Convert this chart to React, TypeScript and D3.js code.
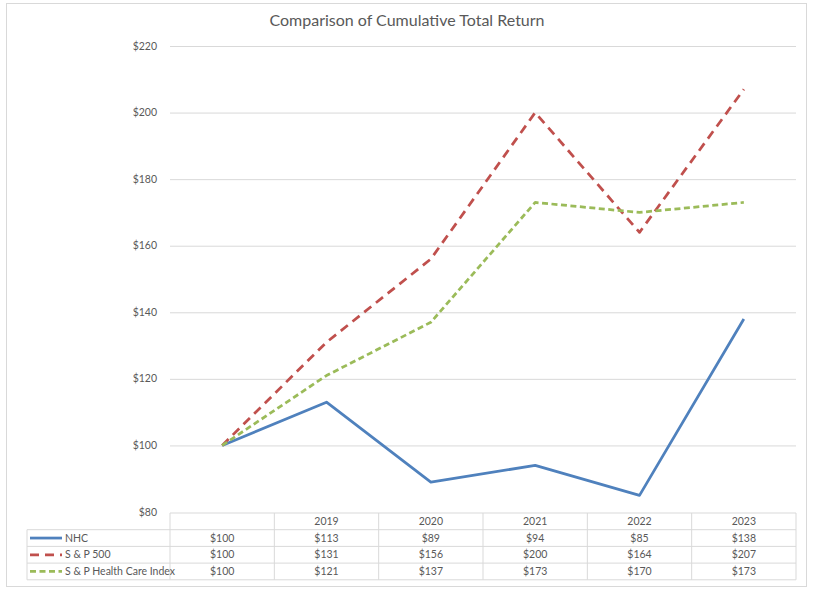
import React, { useEffect, useRef } from "react";
import * as d3 from "d3";

const categories = ["", "2019", "2020", "2021", "2022", "2023"];
const nhc = [100, 113, 89, 94, 85, 138];
const sp500 = [100, 131, 156, 200, 164, 207];
const healthCare = [100, 121, 137, 173, 170, 173];
const yTicks = [80, 100, 120, 140, 160, 180, 200, 220];

const series = [
  { name: "NHC", values: nhc, color: "#4f81bd", dash: null as string | null },
  { name: "S & P 500", values: sp500, color: "#c0504d", dash: "9,6" },
  { name: "S & P Health Care Index", values: healthCare, color: "#9bbb59", dash: "6,3.5" },
];

const W = 817;
const H = 592;
const FONT = "Lato, 'Liberation Sans', sans-serif";
const TEXT = "#595959";
const GRID = "#d9d9d9";

const App = () => {
  const svgRef = useRef<SVGSVGElement | null>(null);

  useEffect(() => {
    const svg = d3.select(svgRef.current);
    svg.selectAll("*").remove();

    const plot = { left: 170, right: 796, top: 46, bottom: 512 };
    const rowH = 16.7;
    const legendLeft = 27;
    const fs = 10.5;

    // chart border
    svg.append("rect")
      .attr("x", 6.5).attr("y", 3.5)
      .attr("width", 800).attr("height", 583)
      .attr("fill", "#fff").attr("stroke", GRID);

    svg.append("text")
      .attr("x", 407).attr("y", 26)
      .attr("text-anchor", "middle")
      .attr("font-family", FONT).attr("font-size", 16)
      .attr("fill", TEXT)
      .text("Comparison of Cumulative Total Return");

    const x = d3.scaleBand<number>()
      .domain(d3.range(categories.length))
      .range([plot.left, plot.right])
      .paddingInner(0).paddingOuter(0);
    const cx = (i: number) => x(i)! + x.bandwidth() / 2;

    const y = d3.scaleLinear().domain([80, 220]).range([plot.bottom, plot.top]);

    // gridlines
    svg.append("g")
      .selectAll("line")
      .data(yTicks.filter((t) => t !== 80))
      .enter()
      .append("line")
      .attr("x1", plot.left).attr("x2", plot.right)
      .attr("y1", (d) => y(d) + 0.5).attr("y2", (d) => y(d) + 0.5)
      .attr("stroke", GRID).attr("stroke-width", 1);

    // y labels
    svg.append("g")
      .selectAll("text")
      .data(yTicks)
      .enter()
      .append("text")
      .attr("x", 157).attr("y", (d) => y(d) + 3.5)
      .attr("text-anchor", "end")
      .attr("font-family", FONT).attr("font-size", fs)
      .attr("fill", TEXT)
      .text((d) => `$${d}`);

    // lines
    const line = d3.line<number>()
      .x((_, i) => cx(i))
      .y((d) => y(d));

    series.forEach((s) => {
      svg.append("path")
        .datum(s.values)
        .attr("d", line)
        .attr("fill", "none")
        .attr("stroke", s.color)
        .attr("stroke-width", 2.75)
        .attr("stroke-linejoin", "round")
        .attr("stroke-dasharray", s.dash);
    });

    // data table
    const table = svg.append("g");
    const top = plot.bottom + 1;
    const nRows = series.length + 1;
    for (let r = 0; r <= nRows; r++) {
      table.append("line")
        .attr("x1", r === 0 ? plot.left : legendLeft).attr("x2", plot.right)
        .attr("y1", top + r * rowH).attr("y2", top + r * rowH)
        .attr("stroke", GRID);
    }
    table.append("line")
      .attr("x1", legendLeft).attr("x2", legendLeft)
      .attr("y1", top + rowH).attr("y2", top + nRows * rowH)
      .attr("stroke", GRID);
    for (let c = 0; c <= categories.length; c++) {
      const xx = c < categories.length ? x(c)! : plot.right;
      table.append("line")
        .attr("x1", xx).attr("x2", xx)
        .attr("y1", top).attr("y2", top + nRows * rowH)
        .attr("stroke", GRID);
    }
    categories.forEach((c, i) => {
      table.append("text")
        .attr("x", cx(i)).attr("y", top + rowH / 2 + 3.5)
        .attr("text-anchor", "middle")
        .attr("font-family", FONT).attr("font-size", fs)
        .attr("fill", TEXT)
        .text(c);
    });
    series.forEach((s, r) => {
      const rowY = top + (r + 1) * rowH + rowH / 2;
      table.append("line")
        .attr("x1", 30).attr("x2", 62)
        .attr("y1", rowY).attr("y2", rowY)
        .attr("stroke", s.color).attr("stroke-width", 2.75)
        .attr("stroke-dasharray", s.dash);
      table.append("text")
        .attr("x", 65).attr("y", rowY + 3.5)
        .attr("font-family", FONT).attr("font-size", fs)
        .attr("fill", TEXT)
        .text(s.name);
      s.values.forEach((v, i) => {
        table.append("text")
          .attr("x", cx(i)).attr("y", rowY + 3.5)
          .attr("text-anchor", "middle")
          .attr("font-family", FONT).attr("font-size", fs)
          .attr("fill", TEXT)
          .text(`$${v}`);
      });
    });
  }, []);

  return (
    <svg ref={svgRef} width={W} height={H} style={{ position: "absolute", left: 0, top: 0 }} />
  );
};

export default App;
